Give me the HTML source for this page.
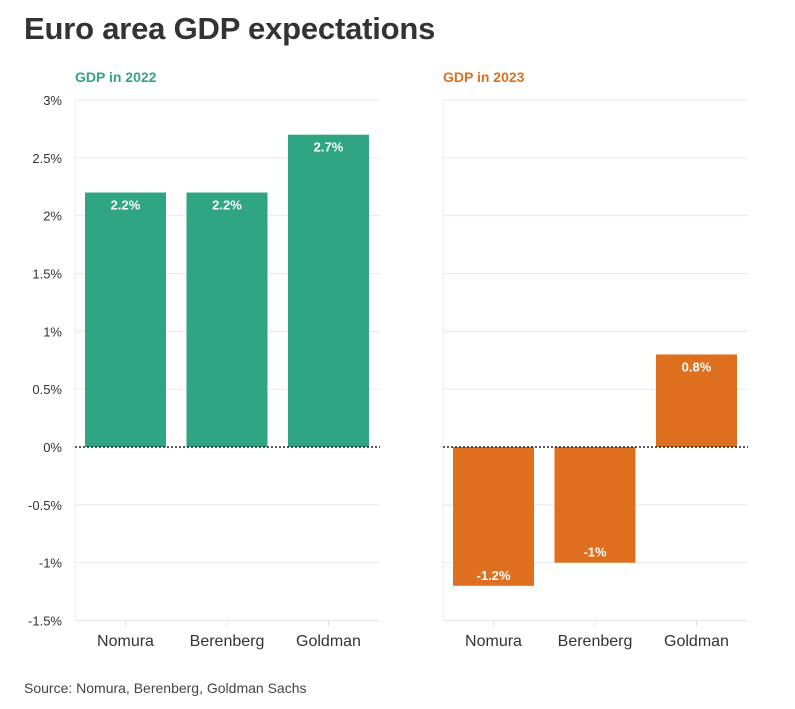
<!DOCTYPE html>
<html><head><meta charset="utf-8"><style>
body{margin:0;background:#fff;width:795px;height:704px;overflow:hidden;font-family:"Liberation Sans",sans-serif}
</style></head><body>
<svg id="c" width="795" height="704">
<text x="24" y="39" font-size="31" font-weight="bold" fill="#333" letter-spacing="-0.2">Euro area GDP expectations</text>
<text x="75" y="82" font-size="14" font-weight="bold" fill="#2fa681">GDP in 2022</text>
<text x="443" y="82" font-size="14" font-weight="bold" fill="#dd6f1e">GDP in 2023</text>
<text x="24" y="693" font-size="14" fill="#444">Source: Nomura, Berenberg, Goldman Sachs</text>
</svg>
<script>
const categories=["Nomura","Berenberg","Goldman"];
const values2022=[2.2,2.2,2.7];
const values2023=[-1.2,-1,0.8];
const labels2022=["2.2%","2.2%","2.7%"];
const labels2023=["-1.2%","-1%","0.8%"];
const ticks=[3,2.5,2,1.5,1,0.5,0,-0.5,-1,-1.5];
const tickLabels=["3%","2.5%","2%","1.5%","1%","0.5%","0%","-0.5%","-1%","-1.5%"];
const svg=document.getElementById('c');
const NS="http://www.w3.org/2000/svg";
function y(v){return 447-v*115.67;}
function mk(t,a){const e=document.createElementNS(NS,t);for(const k in a)e.setAttribute(k,a[k]);svg.appendChild(e);return e;}
function panel(x0,vals,labs,color,name,showY){
  const x1=x0+305;
  const ax=mk('line',{x1:x0,x2:x0,y1:y(3),y2:y(-1.5),stroke:'#ececec','stroke-width':1});
  
  
  ticks.forEach((t,i)=>{
    if(t!==0){const g=mk('line',{x1:x0,x2:x1,y1:y(t),y2:y(t),stroke:'#e8e8e8','stroke-width':1});
    
    }
    if(showY){const tx=mk('text',{x:62,y:y(t)+5,'font-size':13,fill:'#333','text-anchor':'end'});tx.textContent=tickLabels[i];
    
    }
  });
  const bw=81,step=101.5;
  categories.forEach((c,i)=>{
    const bx=x0+10+i*step, v=vals[i];
    const top=Math.min(y(v),y(0)),h=Math.abs(y(v)-y(0));
    const r=mk('rect',{x:bx,y:top,width:bw,height:h,fill:color});
    
    
    const ly=v>=0?y(v)+17:y(v)-6;
    const t=mk('text',{x:bx+bw/2,y:ly,'font-size':13,'font-weight':'bold',fill:'#fff','text-anchor':'middle'});t.textContent=labs[i];
    
    
    const tk=mk('line',{x1:bx+bw/2,x2:bx+bw/2,y1:y(-1.5),y2:y(-1.5)+6,stroke:'#e0e0e0'});
    
    
    const cl=mk('text',{x:bx+bw/2,y:646,'font-size':16,fill:'#333','text-anchor':'middle'});cl.textContent=c;
    
    
  });
  const z=mk('line',{x1:x0,x2:x1,y1:y(0),y2:y(0),stroke:'#222','stroke-width':1.5,'stroke-dasharray':'2,2'});
  
  
}
panel(75,values2022,labels2022,'#2fa681','panel-2022',true);
panel(443,values2023,labels2023,'#dd6f1e','panel-2023',false);
</script>
</body></html>
